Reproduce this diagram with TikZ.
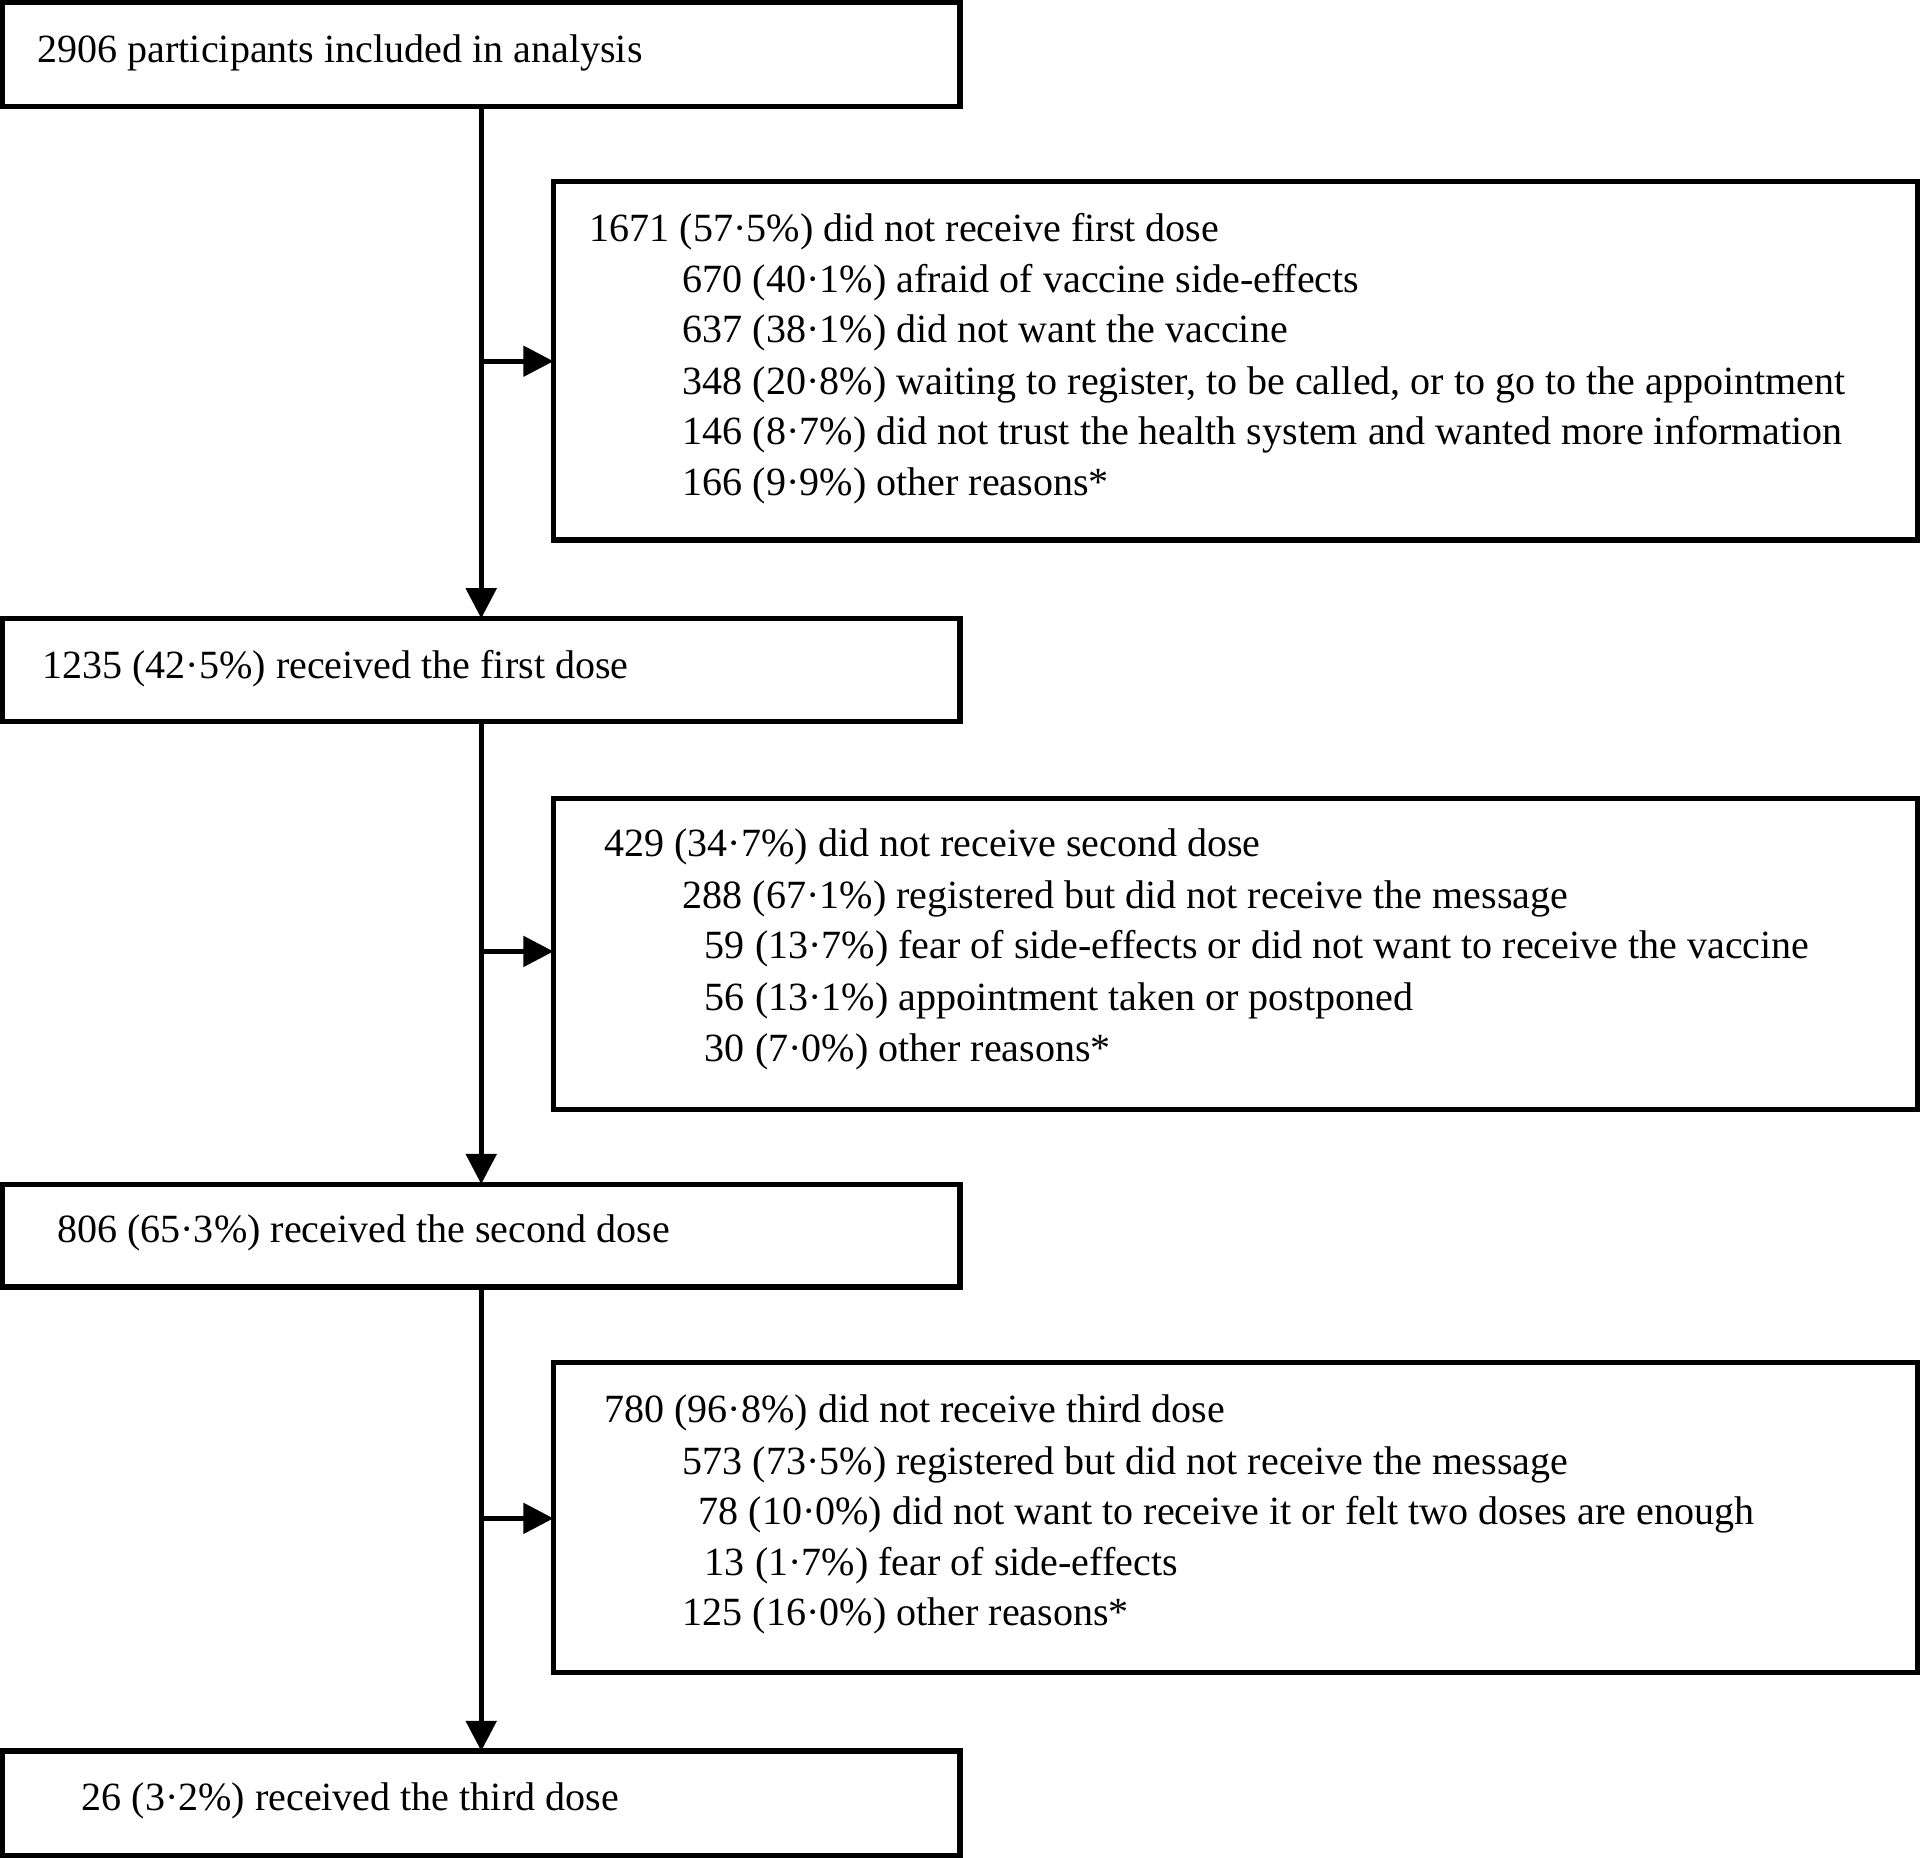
\documentclass[tikz,border=0pt]{standalone}
\usepackage{fontspec}
\setmainfont{Liberation Serif}
\usetikzlibrary{arrows.meta}
\begin{document}
\begin{tikzpicture}[x=0.01cm,y=-0.01cm,
  box/.style={draw,line width=1.2pt},
  txt/.style={anchor=west,inner sep=0pt,font=\fontsize{9.3}{11}\selectfont},
  arr/.style={line width=1.1pt,-{Triangle[length=7pt,width=7pt]}}]
\useasboundingbox (0,0) rectangle (1568,1517);
\draw[box] (2,2) rectangle (784,87);
\draw[box] (452,148) rectangle (1566,441);
\draw[box] (2,505) rectangle (784,589);
\draw[box] (452,652) rectangle (1566,906);
\draw[box] (2,967) rectangle (784,1051);
\draw[box] (452,1113) rectangle (1566,1366);
\draw[box] (2,1430) rectangle (784,1515);
\coordinate (b1) at (393,87);
\coordinate (b2t) at (393,505); \coordinate (b2) at (393,589);
\coordinate (b3t) at (393,967); \coordinate (b3) at (393,1051);
\coordinate (b4t) at (393,1430);
\coordinate (j1) at (393,295); \coordinate (s1) at (452,295);
\coordinate (j2) at (393,777); \coordinate (s2) at (452,777);
\coordinate (j3) at (393,1240); \coordinate (s3) at (452,1240);
\draw[arr] (b1)--(b2t); \draw[arr] (j1)--(s1);
\draw[arr] (b2)--(b3t); \draw[arr] (j2)--(s2);
\draw[arr] (b3)--(b4t); \draw[arr] (j3)--(s3);
\node[txt] (t1) at (30,43) {2906 participants included in analysis};
\node[txt] (t2) at (34,546) {1235 (42·5\%) received the first dose};
\node[txt] (t3) at (46,1007) {806 (65·3\%) received the second dose};
\node[txt] (t4) at (66,1471) {26 (3·2\%) received the third dose};
\node[txt] (a0) at (481,189) {1671 (57·5\%) did not receive first dose};
\node[txt] (a1) at (557,231) {670 (40·1\%) afraid of vaccine side-effects};
\node[txt] (a2) at (557,272) {637 (38·1\%) did not want the vaccine};
\node[txt] (a3) at (557,314) {348 (20·8\%) waiting to register, to be called, or to go to the appointment};
\node[txt] (a4) at (557,355) {146 (8·7\%) did not trust the health system and wanted more information};
\node[txt] (a5) at (557,397) {166 (9·9\%) other reasons*};
\node[txt] (c0) at (493,692) {429 (34·7\%) did not receive second dose};
\node[txt] (c1) at (557,734) {288 (67·1\%) registered but did not receive the message};
\node[txt] (c2) at (575,775) {59 (13·7\%) fear of side-effects or did not want to receive the vaccine};
\node[txt] (c3) at (575,817) {56 (13·1\%) appointment taken or postponed};
\node[txt] (c4) at (575,859) {30 (7·0\%) other reasons*};
\node[txt] (d0) at (493,1154) {780 (96·8\%) did not receive third dose};
\node[txt] (d1) at (557,1196) {573 (73·5\%) registered but did not receive the message};
\node[txt] (d2) at (570,1237) {78 (10·0\%) did not want to receive it or felt two doses are enough};
\node[txt] (d3) at (575,1279) {13 (1·7\%) fear of side-effects};
\node[txt] (d4) at (557,1320) {125 (16·0\%) other reasons*};
\end{tikzpicture}
\end{document}
